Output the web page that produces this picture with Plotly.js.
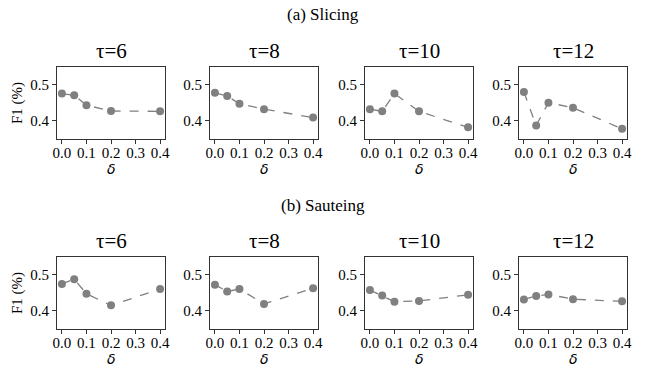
<!DOCTYPE html>
<html><head><meta charset="utf-8">
<script src="https://cdn.plot.ly/plotly-3.0.1.min.js"></script>
<style>html,body{margin:0;padding:0;background:#fff}#c{width:645px;height:368px}</style>
</head><body><div id="c"></div>
<script>
const delta = [0.0, 0.05, 0.1, 0.2, 0.4];
const tauLabels = ["τ=6", "τ=8", "τ=10", "τ=12"];
const groupTitles = ["(a) Slicing", "(b) Sauteing"];
const xTitle = "δ";
const yTitle = "F1 (%)";
const slicing6 = [0.475, 0.470, 0.443, 0.427, 0.426];
const slicing8 = [0.477, 0.468, 0.447, 0.432, 0.409];
const slicing10 = [0.432, 0.426, 0.475, 0.426, 0.382];
const slicing12 = [0.479, 0.387, 0.450, 0.436, 0.378];
const saute6 = [0.474, 0.487, 0.447, 0.415, 0.460];
const saute8 = [0.472, 0.453, 0.460, 0.419, 0.462];
const saute10 = [0.457, 0.442, 0.425, 0.427, 0.444];
const saute12 = [0.431, 0.441, 0.445, 0.432, 0.426];
const xTicks = [0.0, 0.1, 0.2, 0.3, 0.4];
const xTickText = ["0.0", "0.1", "0.2", "0.3", "0.4"];
const yTicks = [0.4, 0.5];
const yTickText = ["0.4", "0.5"];

const series = [slicing6, slicing8, slicing10, slicing12, saute6, saute8, saute10, saute12];
const W = 645, H = 368;
const colPx = [[57,165],[210,318],[365,473],[519,627]];
const rowPx = [[67,139],[257,329]];
const serif = "Liberation Serif";

const data = [];
const layout = {
  width: W, height: H, margin: {l:0,r:0,t:0,b:0},
  paper_bgcolor: "#fff", plot_bgcolor: "#fff", showlegend: false,
  font: {family: serif, size: 14, color: "#000"},
  annotations: [], 
};
series.forEach((ys, i) => {
  const r = Math.floor(i / 4), c = i % 4;
  const n = i + 1;
  const xa = "x" + (n === 1 ? "" : n), ya = "y" + (n === 1 ? "" : n);
  data.push({x: delta, y: ys, xaxis: xa, yaxis: ya, type: "scatter", mode: "lines+markers",
    line: {color: "#808080", dash: "dash", width: 1.3},
    marker: {color: "#808080", size: 8}});
  const xk = "xaxis" + (n === 1 ? "" : n), yk = "yaxis" + (n === 1 ? "" : n);
  layout[xk] = {
    domain: [colPx[c][0]/W, colPx[c][1]/W], anchor: ya, range: [-0.02, 0.42],
    tickvals: xTicks, ticktext: xTickText, ticks: "outside", ticklen: 4, tickcolor: "#333",
    ticklabelstandoff: -4,
    showline: true, mirror: true, linecolor: "#333", linewidth: 1, showgrid: false, zeroline: false,
    tickfont: {family: serif, size: 15}
  };
  layout[yk] = {
    domain: [1 - rowPx[r][1]/H, 1 - rowPx[r][0]/H], anchor: xa, range: [0.35, 0.548],
    tickvals: yTicks, ticktext: yTickText, ticks: "outside", ticklen: 4, tickcolor: "#333",
    showline: true, mirror: true, linecolor: "#333", linewidth: 1, showgrid: false, zeroline: false,
    tickfont: {family: serif, size: 15},
    title: c === 0 ? {text: yTitle, font: {family: serif, size: 15}, standoff: 4} : {text: ""}
  };
  layout.annotations.push({text: tauLabels[c], xref: "paper", yref: "paper",
    x: (colPx[c][0] + colPx[c][1]) / 2 / W, y: 1 - (rowPx[r][0] - 2) / H,
    xanchor: "center", yanchor: "bottom", showarrow: false, font: {family: serif, size: 21}});
  layout.annotations.push({text: "<i>" + xTitle + "</i>", xref: "paper", yref: "paper",
    x: (colPx[c][0] + colPx[c][1]) / 2 / W, y: 1 - (rowPx[r][1] + 20) / H,
    xanchor: "center", yanchor: "top", showarrow: false, font: {family: "DejaVu Sans", size: 14}});
});
layout.annotations.push({text: groupTitles[0], xref: "paper", yref: "paper", x: 323/W, y: 1 - 14/H,
  xanchor: "center", yanchor: "middle", showarrow: false, font: {family: serif, size: 17}});
layout.annotations.push({text: groupTitles[1], xref: "paper", yref: "paper", x: 323/W, y: 1 - 205/H,
  xanchor: "center", yanchor: "middle", showarrow: false, font: {family: serif, size: 17}});
Plotly.newPlot("c", data, layout, {staticPlot: true});
</script></body></html>
